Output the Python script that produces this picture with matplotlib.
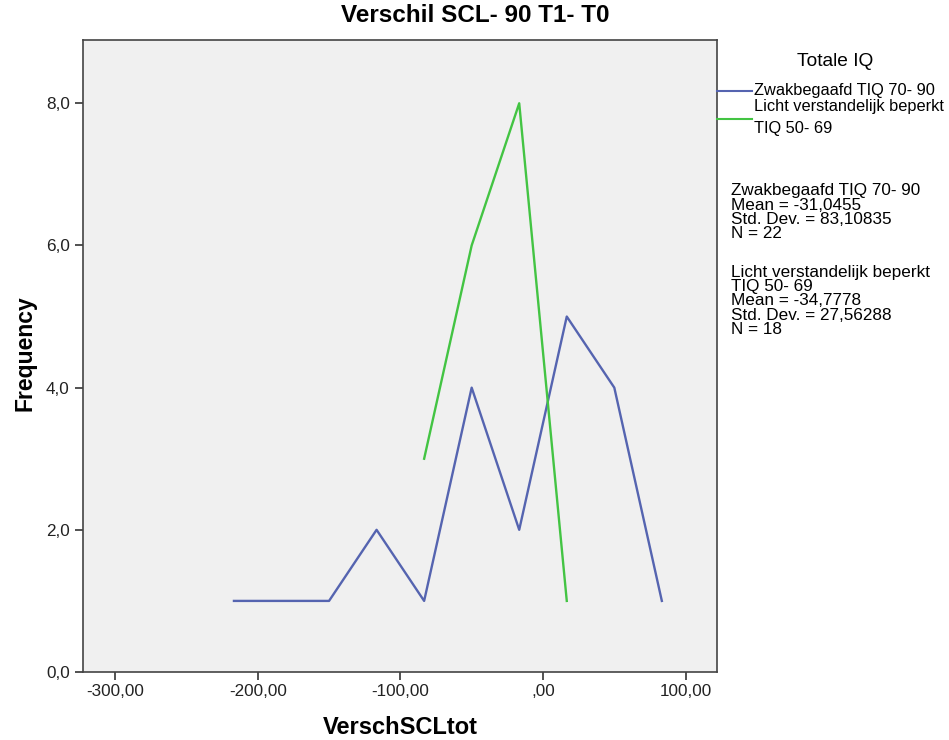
import matplotlib.pyplot as plt
from matplotlib.ticker import FuncFormatter, FixedLocator
from matplotlib.lines import Line2D

# bin midpoints (VerschSCLtot) and frequencies
blue_x = [-216.67, -183.33, -150.0, -116.67, -83.33, -50.0, -16.67, 16.67, 50.0, 83.33]
blue_y = [1, 1, 1, 2, 1, 4, 2, 5, 4, 1]
green_x = [-83.33, -50.0, -16.67, 16.67]
green_y = [3, 6, 8, 1]

x_ticks = [-300, -200, -100, 0, 100]
y_ticks = [0, 2, 4, 6, 8]

BLUE = '#5564b0'
GREEN = '#43c443'

plt.rcParams['font.family'] = ['Liberation Sans', 'DejaVu Sans']

fig = plt.figure(figsize=(9.49, 7.40), dpi=100)
ax = fig.add_axes([83 / 949, 1 - 672 / 740, (717 - 83) / 949, (672 - 40) / 740])
ax.set_facecolor('#f0f0f0')

ax.plot(blue_x, blue_y, color=BLUE, linewidth=1.7)
ax.plot(green_x, green_y, color=GREEN, linewidth=1.7)

ax.set_xlim(-322.5, 122)
ax.set_ylim(0, 8.89)


def fmt_x(v, pos):
    s = f"{v:.2f}".replace('.', ',')
    if s.startswith('0,'):
        s = s[1:]
    return s


def fmt_y(v, pos):
    return f"{v:.1f}".replace('.', ',')


ax.xaxis.set_major_locator(FixedLocator(x_ticks))
ax.yaxis.set_major_locator(FixedLocator(y_ticks))
ax.xaxis.set_major_formatter(FuncFormatter(fmt_x))
ax.yaxis.set_major_formatter(FuncFormatter(fmt_y))
ax.tick_params(axis='both', direction='out', length=6, width=1.2, colors='#333333',
               labelsize=12.3, labelcolor='#222222')
ax.tick_params(axis='x', pad=3)

for sp in ax.spines.values():
    sp.set_color('#444444')
    sp.set_linewidth(1.2)

fig.text(475 / 949, 1 - 16 / 740, 'Verschil SCL- 90 T1- T0', fontsize=17.5,
         fontweight='bold', ha='center', va='center')
fig.text(400 / 949, 1 - 728 / 740, 'VerschSCLtot', fontsize=17, fontweight='bold',
         ha='center', va='center')
fig.text(25 / 949, 1 - 353 / 740, 'Frequency', fontsize=16.5, fontweight='bold',
         ha='center', va='center', rotation=90)

# legend outside the plot, to the right
fig.text(835 / 949, 1 - 62 / 740, 'Totale IQ', fontsize=13.8, ha='center', va='center')
for yy, col in [(91, BLUE), (119, GREEN)]:
    fig.add_artist(Line2D([717 / 949, 752 / 949], [1 - yy / 740, 1 - yy / 740],
                          color=col, linewidth=1.5))
fig.text(754 / 949, 1 - 91 / 740, 'Zwakbegaafd TIQ 70- 90', fontsize=11.8, va='center')
fig.text(754 / 949, 1 - 106 / 740, 'Licht verstandelijk beperkt', fontsize=11.8, va='center')
fig.text(754 / 949, 1 - 129 / 740, 'TIQ 50- 69', fontsize=11.8, va='center')

stats1 = ['Zwakbegaafd TIQ 70- 90', 'Mean = -31,0455', 'Std. Dev. = 83,10835', 'N = 22']
stats2 = ['Licht verstandelijk beperkt', 'TIQ 50- 69', 'Mean = -34,7778',
          'Std. Dev. = 27,56288', 'N = 18']
for i, line in enumerate(stats1):
    fig.text(731 / 949, 1 - (191 + 14 * i) / 740, line, fontsize=12.3, va='center')
for i, line in enumerate(stats2):
    fig.text(731 / 949, 1 - (273 + 14 * i) / 740, line, fontsize=12.3, va='center')

fig.savefig('out.png', dpi=100, facecolor='white')
